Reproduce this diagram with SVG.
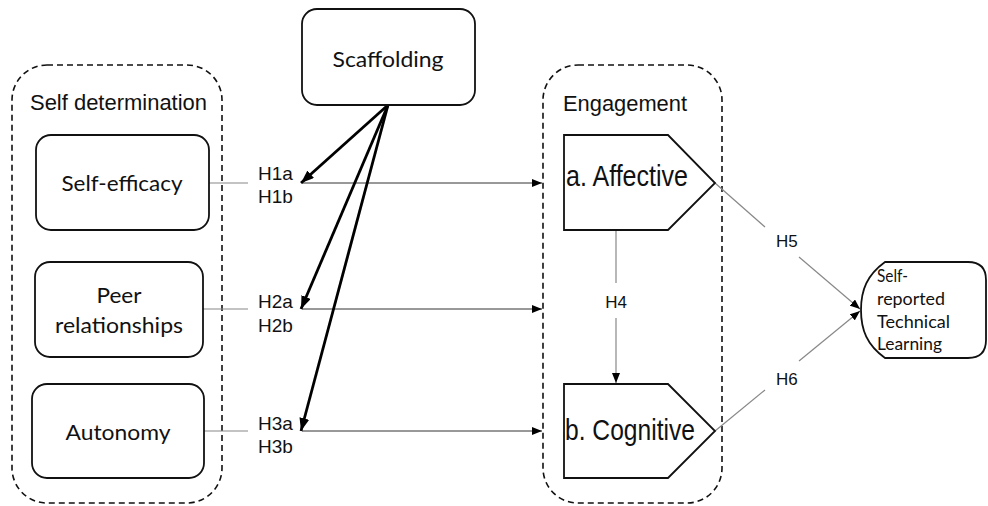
<svg xmlns="http://www.w3.org/2000/svg" width="988" height="506" viewBox="0 0 988 506">
<defs>
<style>
.grp{fill:none;stroke:#111;stroke-width:1.6;stroke-dasharray:6 4}
.box{fill:#fff;stroke:#111;stroke-width:1.8}
.ar{font-family:"Liberation Sans",Arial,sans-serif;fill:#111}
.cal{font-family:Lato,"Open Sans",sans-serif;fill:#111}
.thin{stroke:#333;stroke-width:1;fill:none}
.gray{stroke:#888;stroke-width:1.2;fill:none}
.thick{stroke:#000;stroke-width:2.8;fill:none}
</style>
<marker id="ah" markerUnits="userSpaceOnUse" markerWidth="10" markerHeight="8" refX="10" refY="4" orient="auto">
<path d="M0,0 L10,4 L0,8 Z" fill="#000"/>
</marker>
<marker id="ahb" markerUnits="userSpaceOnUse" markerWidth="13" markerHeight="10" refX="13" refY="5" orient="auto">
<path d="M0,0 L13,5 L0,10 Z" fill="#000"/>
</marker>
</defs>
<rect width="988" height="506" fill="#fff"/>

<g id="self-determination">
<rect class="grp" x="12" y="65" width="210" height="438" rx="35"/>
<text class="ar" x="30" y="110" font-size="22" textLength="177" lengthAdjust="spacingAndGlyphs">Self determination</text>
</g>
<g id="engagement">
<rect class="grp" x="543" y="65" width="179" height="438" rx="35"/>
<text class="ar" x="563" y="111" font-size="22" textLength="124" lengthAdjust="spacingAndGlyphs">Engagement</text>
</g>

<g id="connectors">
<line class="gray" x1="209" y1="183" x2="248" y2="183"/>
<line class="thin" x1="302" y1="183" x2="542" y2="183" marker-end="url(#ah)"/>
<line class="gray" x1="203" y1="309" x2="248" y2="309"/>
<line class="thin" x1="302" y1="309" x2="542" y2="309" marker-end="url(#ah)"/>
<line class="gray" x1="204" y1="431" x2="248" y2="431"/>
<line class="thin" x1="302" y1="431" x2="542" y2="431" marker-end="url(#ah)"/>
<line class="thick" x1="388" y1="105" x2="301" y2="183" marker-end="url(#ahb)"/>
<line class="thick" x1="388" y1="105" x2="301" y2="309" marker-end="url(#ahb)"/>
<line class="thick" x1="388" y1="105" x2="301" y2="431" marker-end="url(#ahb)"/>
<line class="gray" x1="616" y1="230" x2="616" y2="283"/>
<line class="gray" x1="616" y1="318" x2="616" y2="383" marker-end="url(#ah)"/>
<line class="gray" x1="715" y1="183" x2="765" y2="227"/>
<line class="gray" x1="799" y1="257" x2="860" y2="309" marker-end="url(#ah)"/>
<line class="gray" x1="715" y1="431" x2="765" y2="390"/>
<line class="gray" x1="799" y1="361" x2="860" y2="311" marker-end="url(#ah)"/>
<text class="ar" x="258" y="180" font-size="19">H1a</text>
<text class="ar" x="258" y="203" font-size="19">H1b</text>
<text class="ar" x="258" y="308" font-size="19">H2a</text>
<text class="ar" x="258" y="332" font-size="19">H2b</text>
<text class="ar" x="258" y="430" font-size="19">H3a</text>
<text class="ar" x="258" y="453" font-size="19">H3b</text>
<text class="ar" x="616" y="308" font-size="17" text-anchor="middle">H4</text>
<text class="ar" x="776" y="247" font-size="17">H5</text>
<text class="ar" x="776" y="385" font-size="17">H6</text>
</g>

<g id="scaffolding">
<rect class="box" x="302" y="9" width="173" height="96" rx="15"/>
<text class="cal" x="388" y="67" font-size="21" text-anchor="middle" textLength="111" lengthAdjust="spacingAndGlyphs">Scaffolding</text>
</g>
<g id="self-efficacy">
<rect class="box" x="36" y="135" width="173" height="95" rx="15"/>
<text class="cal" x="122" y="191" font-size="22" text-anchor="middle" textLength="121" lengthAdjust="spacingAndGlyphs">Self-efficacy</text>
</g>
<g id="peer-relationships">
<rect class="box" x="35" y="262" width="168" height="95" rx="15"/>
<text class="cal" x="119" y="303" font-size="22" text-anchor="middle" textLength="45" lengthAdjust="spacingAndGlyphs">Peer</text>
<text class="cal" x="119" y="333" font-size="22" text-anchor="middle" textLength="128" lengthAdjust="spacingAndGlyphs">relationships</text>
</g>
<g id="autonomy">
<rect class="box" x="32" y="384" width="172" height="94" rx="15"/>
<text class="cal" x="118" y="440" font-size="22" text-anchor="middle" textLength="105" lengthAdjust="spacingAndGlyphs">Autonomy</text>
</g>
<g id="affective">
<polygon class="box" points="564,135 668,135 715,183 668,230 564,230"/>
<text class="ar" x="566" y="186" font-size="29" textLength="122" lengthAdjust="spacingAndGlyphs">a. Affective</text>
</g>
<g id="cognitive">
<polygon class="box" points="564,384 668,384 715,431 668,478 564,478"/>
<text class="ar" x="565" y="440" font-size="29" textLength="130" lengthAdjust="spacingAndGlyphs">b. Cognitive</text>
</g>
<g id="technical-learning">
<path class="box" d="M885,262 H968 Q986,262 986,280 V340 Q986,358 968,358 H885 C867,345 861,330 861,310 C861,290 867,275 885,262 Z"/>
<text class="cal" x="877" y="282" font-size="18" textLength="31" lengthAdjust="spacingAndGlyphs">Self-</text>
<text class="cal" x="877" y="305" font-size="18" textLength="68" lengthAdjust="spacingAndGlyphs">reported</text>
<text class="cal" x="877" y="328" font-size="18" textLength="73" lengthAdjust="spacingAndGlyphs">Technical</text>
<text class="cal" x="877" y="350" font-size="18" textLength="65" lengthAdjust="spacingAndGlyphs">Learning</text>
</g>
</svg>
